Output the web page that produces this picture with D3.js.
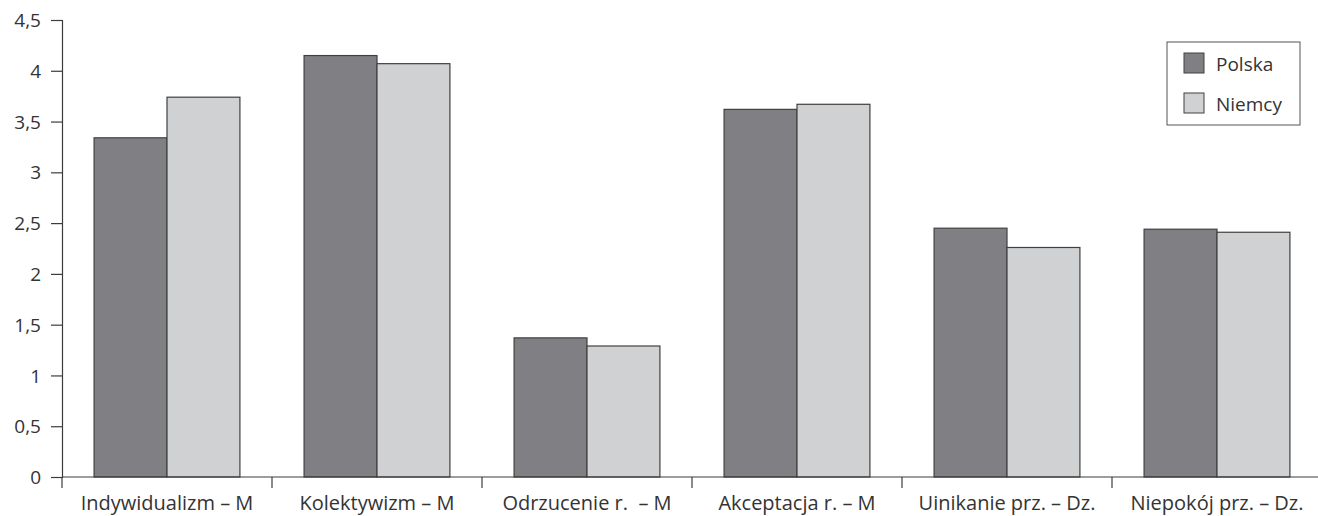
<!DOCTYPE html>
<html lang="pl">
<head>
    <meta charset="UTF-8">
    <title>Polska / Niemcy</title>
    <script src="https://d3js.org/d3.v7.min.js"></script>
    <style>
        body { margin: 0; background: #fff; font-family: "Open Sans", "Noto Sans", sans-serif; }
        svg { display: block; }
        .axis path, .axis line { stroke: #3c3c3c; stroke-width: 1.2px; }
        .axis text { fill: #333; font-size: 19px; font-family: "Open Sans", sans-serif; }
        .axis text.lbl { font-size: 20px; white-space: pre; }
        .legend text { fill: #333; font-size: 19px; }
    </style>
</head>
<body>
    <svg width="1318" height="516"></svg>
    <script>
        const categories = ["Indywidualizm \u2013 M", "Kolektywizm \u2013 M", "Odrzucenie r.  \u2013 M",
                            "Akceptacja r. \u2013 M", "Uinikanie prz. \u2013 Dz.", "Niepok\u00f3j prz. \u2013 Dz."];
        const series = ["Polska", "Niemcy"];
        const polska = [3.34, 4.15, 1.37, 3.62, 2.45, 2.44];
        const niemcy = [3.74, 4.07, 1.29, 3.67, 2.26, 2.41];
        const yTicks = [0, 0.5, 1, 1.5, 2, 2.5, 3, 3.5, 4, 4.5];
        const colors = ["#808084", "#d0d1d3"];

        const svg = d3.select("svg");
        const mLeft = 62, mRight = 1322, mTop = 20, mBottom = 477;

        const x0 = d3.scaleBand().domain(categories).range([mLeft, mRight]);
        const x1 = d3.scaleBand().domain(series).range([0, x0.bandwidth()]).paddingOuter(0.44);
        const y = d3.scaleLinear().domain([0, 4.5]).range([mBottom, mTop]);

        const fmt = d => d3.format("")(d).replace(".", ",");

        // bars
        const groups = svg.append("g")
            .selectAll("g")
            .data(categories)
            .enter().append("g")
            .attr("transform", d => `translate(${x0(d)},0)`);

        groups.selectAll("rect")
            .data((d, i) => [{ s: "Polska", v: polska[i] }, { s: "Niemcy", v: niemcy[i] }])
            .enter().append("rect")
            .attr("x", d => x1(d.s))
            .attr("y", d => y(d.v))
            .attr("width", x1.bandwidth())
            .attr("height", d => mBottom - y(d.v))
            .attr("fill", (d, i) => colors[i])
            .attr("stroke", "#404040")
            .attr("stroke-width", 1.2);

        // y axis
        svg.append("g")
            .attr("class", "axis")
            .attr("transform", `translate(${mLeft},0)`)
            .call(d3.axisLeft(y).tickValues(yTicks).tickFormat(fmt).tickSize(11).tickSizeOuter(11).tickPadding(10))
            .call(g => g.selectAll("text").attr("dy", "0.35em"));

        // x axis: ticks at category boundaries
        const xa = svg.append("g")
            .attr("class", "axis")
            .attr("transform", `translate(0,${mBottom})`);
        xa.append("line").attr("x1", mLeft).attr("x2", 1318).attr("y1", 0).attr("y2", 0);
        xa.selectAll(".tk")
            .data(categories)
            .enter().append("line")
            .attr("class", "tk")
            .attr("x1", d => x0(d)).attr("x2", d => x0(d))
            .attr("y1", 0).attr("y2", 11);
        xa.selectAll(".lbl")
            .data(categories)
            .enter().append("text")
            .attr("class", "lbl")
            .attr("x", d => x0(d) + x0.bandwidth() / 2)
            .attr("y", 33)
            .attr("text-anchor", "middle")
            .text(d => d);

        // legend
        const lg = svg.append("g").attr("class", "legend");
        lg.append("rect")
            .attr("x", 1167).attr("y", 42).attr("width", 133).attr("height", 83)
            .attr("fill", "#fff").attr("stroke", "#555").attr("stroke-width", 1);
        series.forEach((s, i) => {
            lg.append("rect")
                .attr("x", 1184).attr("y", 53 + i * 40).attr("width", 20).attr("height", 20)
                .attr("fill", colors[i]).attr("stroke", "#404040").attr("stroke-width", 1);
            lg.append("text")
                .attr("x", 1216).attr("y", 71 + i * 40)
                .text(s);
        });
    </script>
</body>
</html>
